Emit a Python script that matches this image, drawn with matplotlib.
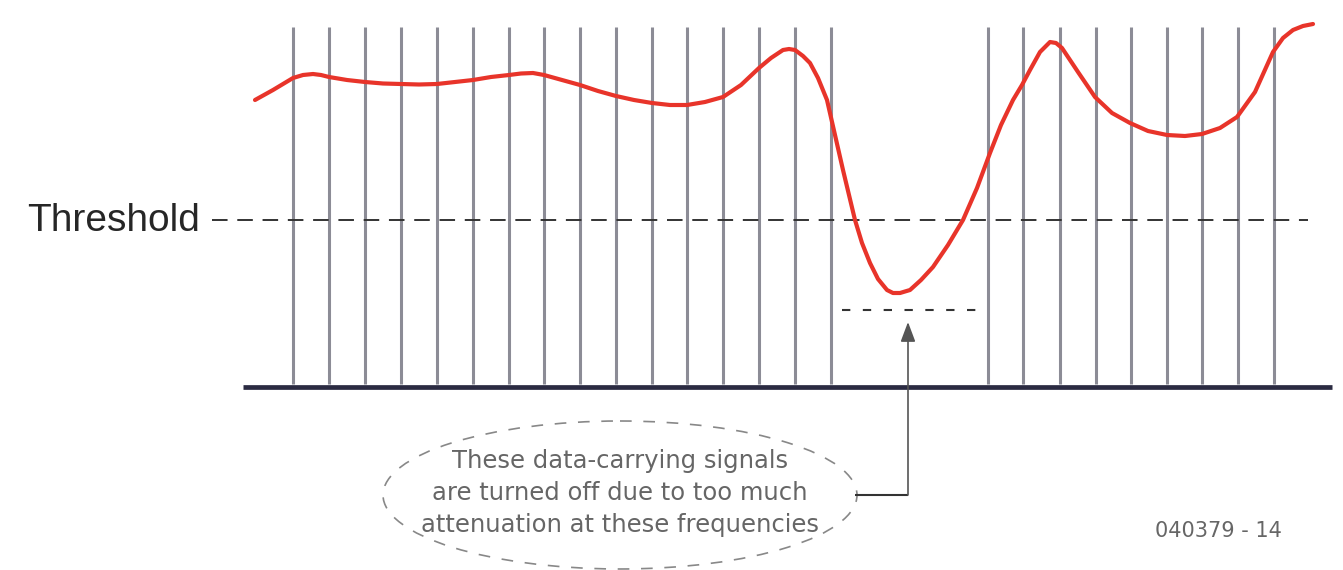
import matplotlib.pyplot as plt
from matplotlib.patches import Ellipse

# frequency positions of the carriers (left group, gap, right group)
carriers_low = [293, 329, 365, 401, 437, 473, 509, 544, 580, 616, 652, 687, 723, 759, 795, 831]
carriers_high = [988, 1023, 1060, 1096, 1131, 1167, 1202, 1238, 1274]

# channel response (red curve)
curve_f = [255, 264, 273, 283, 293, 303, 313, 321, 329, 347, 365, 383, 401, 419, 437, 455,
           473, 491, 509, 521, 533, 544, 562, 580, 598, 616, 634, 652, 670, 687, 705, 723,
           741, 759, 771, 783, 789, 795, 803, 810, 818, 827, 835, 843, 849, 855, 862, 870,
           878, 887, 893, 900, 910, 921, 933, 948, 963, 977, 990, 1001, 1013, 1022, 1030,
           1040, 1050, 1056, 1062, 1078, 1095, 1112, 1130, 1148, 1167, 1185, 1202, 1220,
           1237, 1255, 1273, 1283, 1293, 1303, 1313]
curve_level = [100, 95, 90, 84, 78, 75, 74, 75, 77, 80, 82, 83.5, 84, 84.5, 84, 82,
               80, 77, 75, 73.5, 73, 75, 80, 85, 91, 96, 100, 103, 105, 105, 102, 97,
               85, 68, 58, 50, 49, 50, 56, 63, 78, 100, 135, 170, 195, 220, 243, 263,
               279, 290, 293, 293, 290, 280, 267, 245, 220, 188, 153, 125, 100, 85, 70,
               52, 42, 43, 48, 72, 97, 113, 123, 131, 135, 136, 134, 128,
               117, 92, 52, 38, 30, 26, 24]

threshold = 220
floor_level = 310
base_level = 387
carrier_top = 27

fig = plt.figure(figsize=(13.43, 5.70), dpi=100)
ax = fig.add_axes([0, 0, 1, 1])
ax.set_xlim(0, 1343)
ax.set_ylim(570, 0)
ax.axis('off')

carriers = carriers_low + carriers_high
ax.vlines(carriers, carrier_top, base_level - 3, color='#8c8c96', lw=2.2, zorder=1)
ax.hlines(base_level, 243, 1332, color='#2b2b42', lw=3.4, zorder=2)

ax.hlines(threshold, 212, 1308, color='#333333', lw=1.4, linestyles=(0, (8, 5)), zorder=2)
ax.text(27, threshold + 1, 'Threshold', family='Liberation Sans', fontsize=28,
        color='#262626', va='center', ha='left')

ax.plot(curve_f, curve_level, color='#e8342a', lw=3, solid_capstyle='round',
        solid_joinstyle='round', zorder=3)

ax.hlines(floor_level, 842, 978, color='#333333', lw=1.5, linestyles=(0, (4, 6)), zorder=2)

# arrow from the note up to the floor
ax.annotate('', xy=(908, 322), xytext=(908, 495),
            arrowprops=dict(arrowstyle='-|>,head_length=1.2,head_width=0.45',
                            color='#555555', lw=1.2, shrinkA=0, shrinkB=0))
ax.hlines(495, 855, 908, color='#333333', lw=1.5)

ell = Ellipse((620, 495), 474, 148, fill=False, edgecolor='#888888', lw=1.2,
              linestyle=(0, (7, 7)))
ax.add_patch(ell)

note = ['These data-carrying signals', 'are turned off due to too much',
        'attenuation at these frequencies']
for i, line in enumerate(note):
    ax.text(620, 468 + 32 * i, line, fontsize=17.5, color='#666666',
            ha='center', va='baseline')

ax.text(1282, 537, '040379 - 14', fontsize=15, color='#666666', ha='right', va='baseline')

fig.savefig('out.png', dpi=100)
